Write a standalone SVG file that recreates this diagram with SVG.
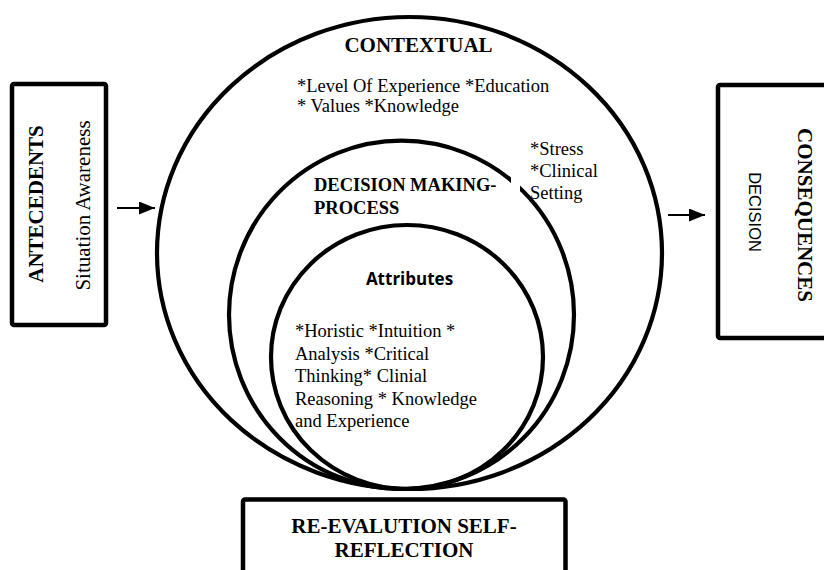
<svg xmlns="http://www.w3.org/2000/svg" width="824" height="570" viewBox="0 0 824 570">
  <defs>
    <style>
      .box { fill: #ffffff; stroke: #000000; stroke-width: 4.5; }
      .ring { fill: none; stroke: #000000; stroke-width: 4.2; }
      .serif { font-family: "Liberation Serif", "Times New Roman", serif; fill: #000000; }
      .head { font-weight: bold; font-size: 21px; }
      .sub { font-weight: bold; font-size: 18.5px; }
      .body { font-size: 18.5px; }
      .sans { font-family: "Liberation Sans", Arial, sans-serif; fill: #000000; }
      .attr { font-family: "Open Sans", "Liberation Sans", sans-serif; font-weight: bold; font-size: 17px; fill: #000000; }
      .arrow { stroke: #000000; stroke-width: 2; fill: none; marker-end: url(#head); }
    </style>
    <marker id="head" markerUnits="userSpaceOnUse" markerWidth="17" markerHeight="14" refX="16" refY="6.5" orient="auto">
      <path d="M0,0 L16,6.5 L0,13 Z" fill="#000000"/>
    </marker>
  </defs>

  <rect width="824" height="570" fill="#ffffff"/>

  <!-- nested context rings -->
  <g id="contextual">
    <ellipse class="ring" cx="409.5" cy="253" rx="252.5" ry="236"/>
    <text class="serif head" x="418.5" y="52" text-anchor="middle">CONTEXTUAL</text>
    <text class="serif body" x="297" y="92">*Level Of Experience *Education</text>
    <text class="serif body" x="297" y="112">* Values *Knowledge</text>
  </g>

  <g id="decision-making">
    <ellipse class="ring" cx="401.5" cy="314.8" rx="172.5" ry="174.2"/>
    <!-- text frame of the side note breaks the ring here -->
    <rect x="511" y="172" width="9" height="22" fill="#ffffff"/>
    <text class="serif sub" x="314" y="191">DECISION MAKING-</text>
    <text class="serif sub" x="314" y="214">PROCESS</text>
    <text class="serif body" x="530" y="155">*Stress</text>
    <text class="serif body" x="530" y="177">*Clinical</text>
    <text class="serif body" x="530" y="198.5">Setting</text>
  </g>

  <g id="attributes">
    <ellipse class="ring" cx="407" cy="357" rx="136" ry="132"/>
    <text class="attr" x="409.5" y="285" text-anchor="middle">Attributes</text>
    <text class="serif body" x="295" y="337.3">*Horistic *Intuition *</text>
    <text class="serif body" x="295" y="360">Analysis *Critical</text>
    <text class="serif body" x="295" y="382.3">Thinking* Clinial</text>
    <text class="serif body" x="295" y="405">Reasoning * Knowledge</text>
    <text class="serif body" x="295" y="427.3">and Experience</text>
  </g>

  <g id="antecedents">
    <rect class="box" x="12" y="84" width="94" height="241" rx="2"/>
    <text class="serif head" transform="translate(43,204) rotate(-90)" text-anchor="middle">ANTECEDENTS</text>
    <text class="serif" font-size="21" transform="translate(90,205.5) rotate(-90)" text-anchor="middle">Situation Awareness</text>
  </g>

  <g id="consequences">
    <rect class="box" x="718" y="85" width="120" height="253" rx="2"/>
    <text class="serif head" transform="translate(798,215) rotate(90)" text-anchor="middle">CONSEQUENCES</text>
    <text class="sans" font-size="16.5" transform="translate(749,212) rotate(90)" text-anchor="middle">DECISION</text>
  </g>

  <g id="re-evaluation">
    <rect class="box" x="243" y="499.5" width="322.5" height="100" rx="2"/>
    <text class="serif head" x="404" y="533" text-anchor="middle">RE-EVALUTION SELF-</text>
    <text class="serif head" x="404" y="556.5" text-anchor="middle">REFLECTION</text>
  </g>

  <g id="connectors">
    <line class="arrow" x1="117" y1="208" x2="155" y2="208"/>
    <line class="arrow" x1="668" y1="215" x2="705" y2="215"/>
  </g>
</svg>
